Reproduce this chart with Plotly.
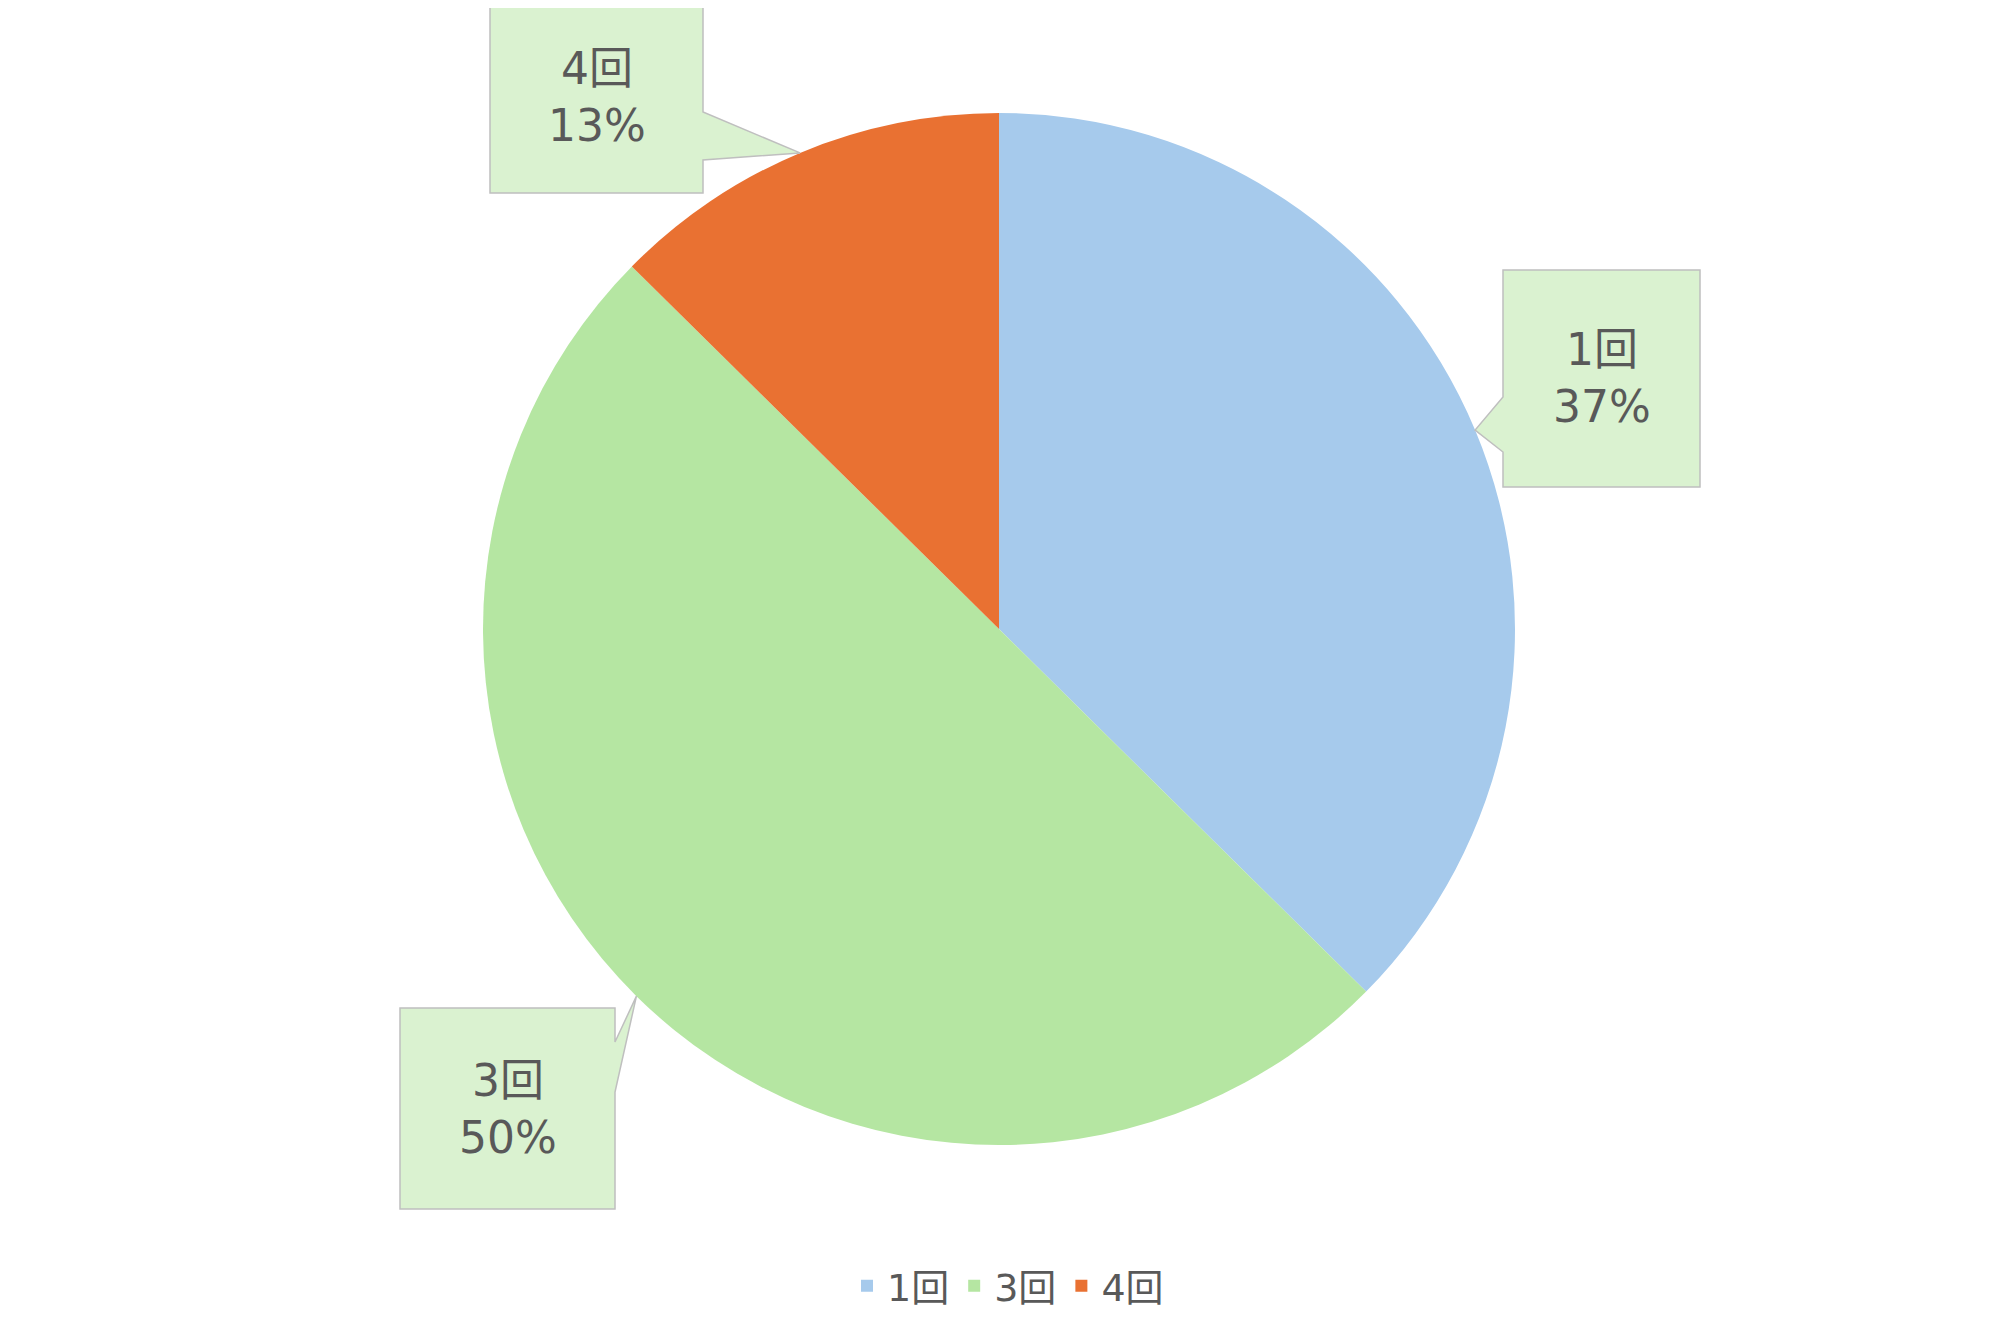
import math
import plotly.graph_objects as go

labels = ["1回", "3回", "4回"]
values = [37.4, 50.0, 12.6]
colors = ["#A6CAEC", "#B5E6A2", "#E97132"]

W, H = 2000, 1333
OFF = 8  # page body margin in the browser
CX, CY, R = 999, 629, 516  # pie centre / radius in px (as seen on the page)

# callout boxes (px): x0, y0, x1, y1, and the two base points of the pointer
boxes = {
    "1回": dict(box=(1503, 270, 1700, 487), base=[(1503, 452), (1503, 397)]),
    "3回": dict(box=(400, 1008, 615, 1209), base=[(615, 1042), (615, 1092)]),
    "4回": dict(box=(490, 0, 703, 193), base=[(703, 112), (703, 160)]),
}


def px(x, y):
    return (x - OFF) / W, 1 - (y - OFF) / H


dx0, dy1 = px(CX - R, CY - R)
dx1, dy0 = px(CX + R, CY + R)

fig = go.Figure(
    go.Pie(
        labels=labels,
        values=values,
        sort=False,
        direction="clockwise",
        rotation=0,
        textinfo="none",
        hoverinfo="label+percent",
        marker=dict(colors=colors, line=dict(width=0)),
        domain=dict(x=[dx0, dx1], y=[dy0, dy1]),
    )
)

total = sum(values)
cum = 0
for lab, v in zip(labels, values):
    theta = 2 * math.pi * (cum + v / 2) / total
    cum += v
    tip = (CX + R * math.sin(theta), CY - R * math.cos(theta))
    b = boxes[lab]
    x0, y0, x1, y1 = b["box"]
    (bx1, by1), (bx2, by2) = b["base"]
    # outline of box + pointer, walked clockwise
    if bx1 == x0:  # pointer on left edge
        pts = [(x0, y0), (x1, y0), (x1, y1), (x0, y1), (bx1, by1), tip, (bx2, by2)]
    else:  # pointer on right edge
        pts = [(x0, y0), (x1, y0), (bx1, by1), tip, (bx2, by2), (x1, y1), (x0, y1)]
    path = "M " + " L ".join("%f,%f" % px(*p) for p in pts) + " Z"
    fig.add_shape(
        type="path",
        path=path,
        xref="paper",
        yref="paper",
        fillcolor="#DAF2D0",
        line=dict(color="#BFBFBF", width=1.5),
        layer="above",
    )
    tx, ty = px((x0 + x1) / 2, (y0 + y1) / 2)
    fig.add_annotation(
        x=tx,
        y=ty,
        xref="paper",
        yref="paper",
        text="%s<br>%d%%" % (lab, round(100 * v / total)),
        showarrow=False,
        font=dict(size=44, color="#595959"),
        xanchor="center",
        yanchor="middle",
    )

fig.update_layout(
    width=W,
    height=H,
    margin=dict(t=0, l=0, r=0, b=0),
    paper_bgcolor="white",
    plot_bgcolor="white",
    font=dict(family="DejaVu Sans, Noto Sans CJK JP, sans-serif", color="#595959"),
    legend=dict(
        orientation="h",
        x=0.5,
        xanchor="center",
        y=px(0, 1286)[1],
        yanchor="middle",
        font=dict(size=38, color="#595959"),
        itemwidth=30,
    ),
)

fig.write_html("out.html")
